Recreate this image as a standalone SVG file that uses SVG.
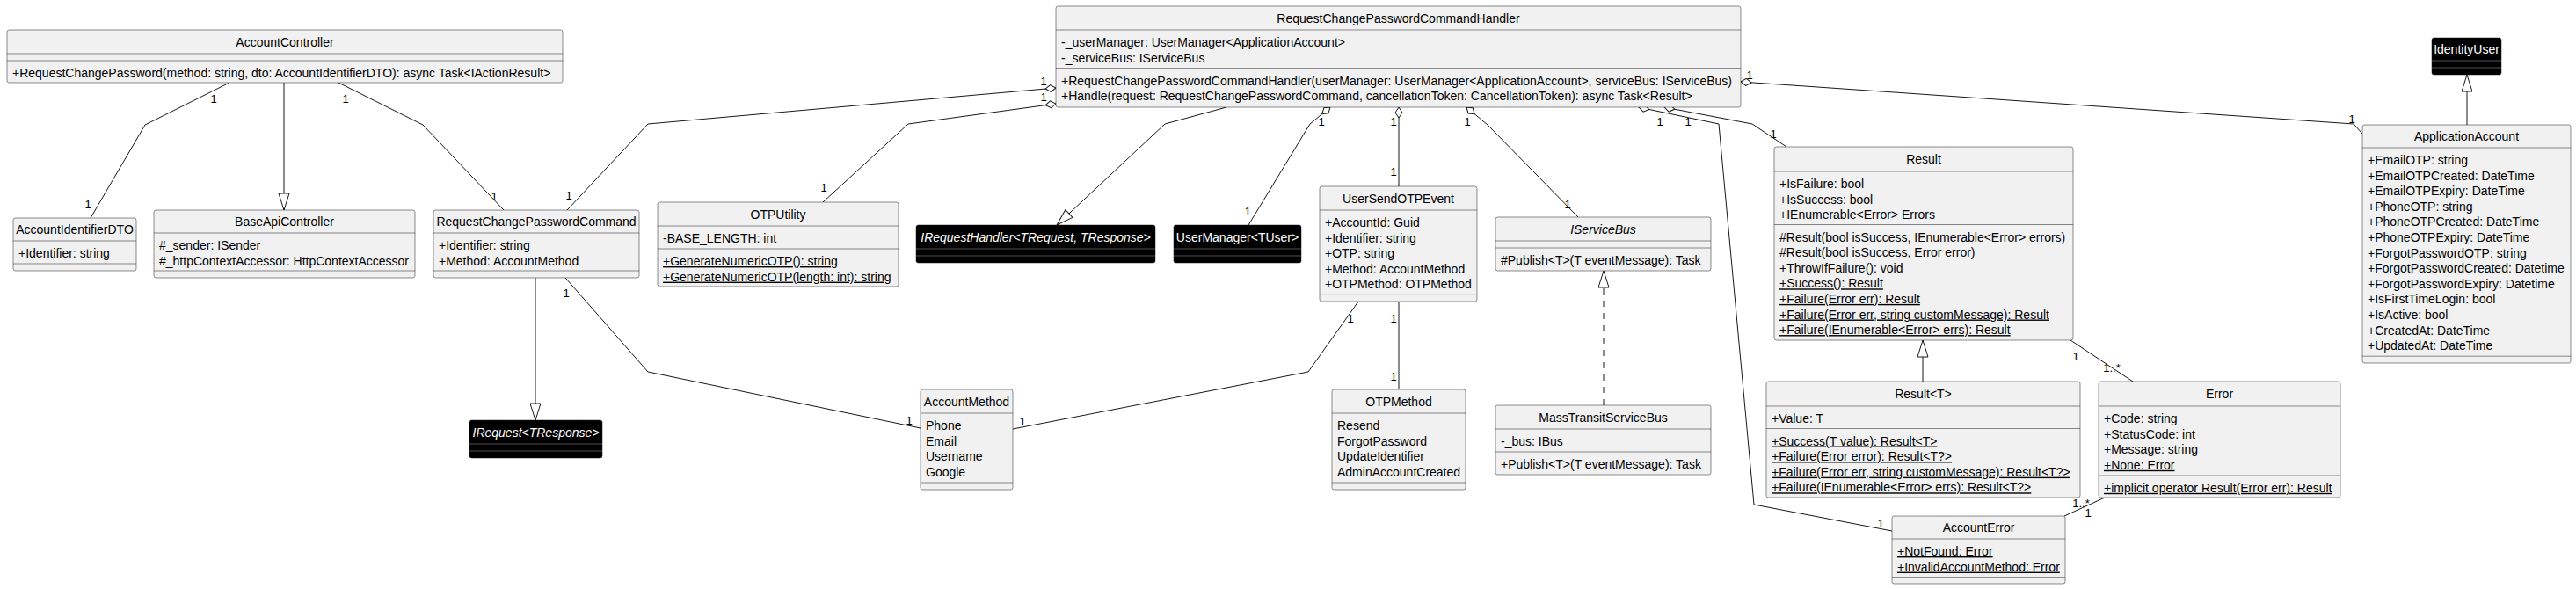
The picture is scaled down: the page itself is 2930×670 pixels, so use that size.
<svg xmlns="http://www.w3.org/2000/svg" width="2930" height="670" viewBox="0 0 2930 670">
<style>
.box{fill:#F1F1F1;stroke:#181818;stroke-width:0.5}
.dark{fill:#000000;stroke:#181818;stroke-width:0.5}
.sep{stroke:#181818;stroke-width:0.5}
.sepd{stroke:#A0A0A0;stroke-width:0.5}
text{font-family:"Liberation Sans",Arial,sans-serif;font-size:14px;fill:#000000}
.t{text-anchor:middle}
.w{fill:#FFFFFF}
.i{font-style:italic}
.u{text-decoration:underline}
.edge{fill:none;stroke:#181818;stroke-width:1}
.dash{stroke-dasharray:7,7}
.lbl{font-size:13px;text-anchor:middle}
</style>
<defs>
<marker id="dia" viewBox="-1 -1 14 10" refX="0" refY="4" markerWidth="14" markerHeight="10" markerUnits="userSpaceOnUse" orient="auto">
<path d="M0,4 L6,0 L12,4 L6,8 Z" fill="#FFFFFF" stroke="#181818" stroke-width="1"/>
</marker>
<marker id="tri" viewBox="-1 -1 22 14" refX="19" refY="6" markerWidth="22" markerHeight="14" markerUnits="userSpaceOnUse" orient="auto">
<path d="M0,0 L19,6 L0,12 Z" fill="#FFFFFF" stroke="#181818" stroke-width="1" stroke-dasharray="none"/>
</marker>
</defs>
<rect width="2930" height="670" fill="#FFFFFF"/>

<g id="connectors">
<path class="edge" d="M261,94 L165,142 L103,248"/>
<path class="edge" d="M323,94 L323,239" marker-end="url(#tri)"/>
<path class="edge" d="M385,94 L481,142 L573,239"/>
<path class="edge" d="M1201,100 L737,141 L645,239" marker-start="url(#dia)"/>
<path class="edge" d="M1201,118 L1033,141 L936,230" marker-start="url(#dia)"/>
<path class="edge" d="M1395,122 L1325,141 L1202,256" marker-end="url(#tri)"/>
<path class="edge" d="M1513,122 L1490,141 L1420,256" marker-start="url(#dia)"/>
<path class="edge" d="M1591,122 L1591,212" marker-start="url(#dia)"/>
<path class="edge" d="M1668,122 L1692,142 L1795,247" marker-start="url(#dia)"/>
<path class="edge" d="M1864,122 L1955,141 L1995,574 L2152,604" marker-start="url(#dia)"/>
<path class="edge" d="M1893,122 L1993,141 L2032,167" marker-start="url(#dia)"/>
<path class="edge" d="M1980,93 L2677,141 L2687,152" marker-start="url(#dia)"/>
<path class="edge" d="M609,316 L609,478" marker-end="url(#tri)"/>
<path class="edge" d="M643,316 L737,423 L1047,487"/>
<path class="edge" d="M1545,343 L1488,423 L1152,488"/>
<path class="edge" d="M1591,343 L1591,443"/>
<path class="edge dash" d="M1824,461 L1824,308" marker-end="url(#tri)"/>
<path class="edge" d="M2187,434 L2187,387" marker-end="url(#tri)"/>
<path class="edge" d="M2355,387 L2426,434"/>
<path class="edge" d="M2348,587 L2394,566"/>
<path class="edge" d="M2806,142 L2806,85" marker-end="url(#tri)"/>
<text class="lbl" x="243" y="117">1</text>
<text class="lbl" x="100" y="237">1</text>
<text class="lbl" x="393" y="117">1</text>
<text class="lbl" x="562" y="228">1</text>
<text class="lbl" x="1187" y="97">1</text>
<text class="lbl" x="647" y="227">1</text>
<text class="lbl" x="1187" y="115">1</text>
<text class="lbl" x="937" y="218">1</text>
<text class="lbl" x="644" y="338">1</text>
<text class="lbl" x="1034" y="483">1</text>
<text class="lbl" x="1536" y="367">1</text>
<text class="lbl" x="1163" y="484">1</text>
<text class="lbl" x="1503" y="143">1</text>
<text class="lbl" x="1419" y="245">1</text>
<text class="lbl" x="1585" y="143">1</text>
<text class="lbl" x="1585" y="200">1</text>
<text class="lbl" x="1585" y="367">1</text>
<text class="lbl" x="1585" y="433">1</text>
<text class="lbl" x="1669" y="143">1</text>
<text class="lbl" x="1783" y="237">1</text>
<text class="lbl" x="1888" y="143">1</text>
<text class="lbl" x="2139" y="600">1</text>
<text class="lbl" x="1920" y="143">1</text>
<text class="lbl" x="2017" y="157">1</text>
<text class="lbl" x="1990" y="90">1</text>
<text class="lbl" x="2675" y="140">1</text>
<text class="lbl" x="2361" y="410">1</text>
<text class="lbl" x="2402" y="423">1..*</text>
<text class="lbl" x="2367" y="577">1..*</text>
<text class="lbl" x="2375" y="588">1</text>
</g>

<g id="AccountController">
<rect class="box" x="8" y="34" width="632" height="60" rx="2.5"/>
<text class="t" x="324" y="52.5">AccountController</text>
<line class="sep" x1="8" y1="61" x2="640" y2="61"/>
<line class="sep" x1="8" y1="69" x2="640" y2="69"/>
<text x="14" y="88">+RequestChangePassword(method: string, dto: AccountIdentifierDTO): async Task&lt;IActionResult&gt;</text>
</g>

<g id="AccountIdentifierDTO">
<rect class="box" x="15" y="248" width="140" height="60" rx="2.5"/>
<text class="t" x="85" y="266">AccountIdentifierDTO</text>
<line class="sep" x1="15" y1="274" x2="155" y2="274"/>
<text x="21" y="293">+Identifier: string</text>
<line class="sep" x1="15" y1="300" x2="155" y2="300"/>
</g>

<g id="BaseApiController">
<rect class="box" x="175" y="239" width="297" height="77" rx="2.5"/>
<text class="t" x="323.5" y="257">BaseApiController</text>
<line class="sep" x1="175" y1="265" x2="472" y2="265"/>
<text x="181" y="284">#_sender: ISender</text>
<text x="181" y="302">#_httpContextAccessor: HttpContextAccessor</text>
<line class="sep" x1="175" y1="308" x2="472" y2="308"/>
</g>

<g id="RequestChangePasswordCommand">
<rect class="box" x="493" y="239" width="234" height="77" rx="2.5"/>
<text class="t" x="610" y="257">RequestChangePasswordCommand</text>
<line class="sep" x1="493" y1="265" x2="727" y2="265"/>
<text x="499" y="284">+Identifier: string</text>
<text x="499" y="302">+Method: AccountMethod</text>
<line class="sep" x1="493" y1="308" x2="727" y2="308"/>
</g>

<g id="IRequest">
<rect class="dark" x="534" y="478" width="151" height="43" rx="2.5"/>
<text class="t w i" x="609.5" y="496.5">IRequest&lt;TResponse&gt;</text>
<line class="sepd" x1="534" y1="505" x2="685" y2="505"/>
<line class="sepd" x1="534" y1="513" x2="685" y2="513"/>
</g>

<g id="RequestChangePasswordCommandHandler">
<rect class="box" x="1201" y="7" width="779" height="115" rx="2.5"/>
<text class="t" x="1590.5" y="25.5">RequestChangePasswordCommandHandler</text>
<line class="sep" x1="1201" y1="34" x2="1980" y2="34"/>
<text x="1207" y="53">-_userManager: UserManager&lt;ApplicationAccount&gt;</text>
<text x="1207" y="70.6">-_serviceBus: IServiceBus</text>
<line class="sep" x1="1201" y1="77.6" x2="1980" y2="77.6"/>
<text x="1207" y="96.6">+RequestChangePasswordCommandHandler(userManager: UserManager&lt;ApplicationAccount&gt;, serviceBus: IServiceBus)</text>
<text x="1207" y="114.2">+Handle(request: RequestChangePasswordCommand, cancellationToken: CancellationToken): async Task&lt;Result&gt;</text>
</g>

<g id="OTPUtility">
<rect class="box" x="748" y="230" width="274" height="96" rx="2.5"/>
<text class="t" x="885" y="248.5">OTPUtility</text>
<line class="sep" x1="748" y1="257" x2="1022" y2="257"/>
<text x="754" y="276">-BASE_LENGTH: int</text>
<line class="sep" x1="748" y1="283" x2="1022" y2="283"/>
<text class="u" x="754" y="302">+GenerateNumericOTP(): string</text>
<text class="u" x="754" y="319.6">+GenerateNumericOTP(length: int): string</text>
</g>

<g id="IRequestHandler">
<rect class="dark" x="1042" y="256" width="272" height="43" rx="2.5"/>
<text class="t w i" x="1178" y="274.5">IRequestHandler&lt;TRequest, TResponse&gt;</text>
<line class="sepd" x1="1042" y1="283" x2="1314" y2="283"/>
<line class="sepd" x1="1042" y1="291" x2="1314" y2="291"/>
</g>

<g id="UserManager">
<rect class="dark" x="1335" y="256" width="145" height="43" rx="2.5"/>
<text class="t w" x="1407.5" y="274.5">UserManager&lt;TUser&gt;</text>
<line class="sepd" x1="1335" y1="283" x2="1480" y2="283"/>
<line class="sepd" x1="1335" y1="291" x2="1480" y2="291"/>
</g>

<g id="UserSendOTPEvent">
<rect class="box" x="1501" y="212" width="179" height="131" rx="2.5"/>
<text class="t" x="1590.5" y="230.5">UserSendOTPEvent</text>
<line class="sep" x1="1501" y1="239" x2="1680" y2="239"/>
<text x="1507" y="258">+AccountId: Guid</text>
<text x="1507" y="275.6">+Identifier: string</text>
<text x="1507" y="293.2">+OTP: string</text>
<text x="1507" y="310.8">+Method: AccountMethod</text>
<text x="1507" y="328.4">+OTPMethod: OTPMethod</text>
<line class="sep" x1="1501" y1="335.4" x2="1680" y2="335.4"/>
</g>

<g id="IServiceBus">
<rect class="box" x="1701" y="247" width="245" height="61" rx="2.5"/>
<text class="t i" x="1823.5" y="265.5">IServiceBus</text>
<line class="sep" x1="1701" y1="274" x2="1946" y2="274"/>
<line class="sep" x1="1701" y1="282" x2="1946" y2="282"/>
<text x="1707" y="301">#Publish&lt;T&gt;(T eventMessage): Task</text>
</g>

<g id="MassTransitServiceBus">
<rect class="box" x="1701" y="461" width="245" height="79" rx="2.5"/>
<text class="t" x="1823.5" y="479.5">MassTransitServiceBus</text>
<line class="sep" x1="1701" y1="488" x2="1946" y2="488"/>
<text x="1707" y="507">-_bus: IBus</text>
<line class="sep" x1="1701" y1="514" x2="1946" y2="514"/>
<text x="1707" y="533">+Publish&lt;T&gt;(T eventMessage): Task</text>
</g>

<g id="AccountMethod">
<rect class="box" x="1047" y="443" width="105" height="114" rx="2.5"/>
<text class="t" x="1099.5" y="461.5">AccountMethod</text>
<line class="sep" x1="1047" y1="470" x2="1152" y2="470"/>
<text x="1053" y="489">Phone</text>
<text x="1053" y="506.6">Email</text>
<text x="1053" y="524.2">Username</text>
<text x="1053" y="541.8">Google</text>
<line class="sep" x1="1047" y1="549" x2="1152" y2="549"/>
</g>

<g id="OTPMethod">
<rect class="box" x="1515" y="443" width="152" height="114" rx="2.5"/>
<text class="t" x="1591" y="461.5">OTPMethod</text>
<line class="sep" x1="1515" y1="470" x2="1667" y2="470"/>
<text x="1521" y="489">Resend</text>
<text x="1521" y="506.6">ForgotPassword</text>
<text x="1521" y="524.2">UpdateIdentifier</text>
<text x="1521" y="541.8">AdminAccountCreated</text>
<line class="sep" x1="1515" y1="549" x2="1667" y2="549"/>
</g>

<g id="Result">
<rect class="box" x="2018" y="167" width="340" height="220" rx="2.5"/>
<text class="t" x="2188" y="186">Result</text>
<line class="sep" x1="2018" y1="195" x2="2358" y2="195"/>
<text x="2024" y="214">+IsFailure: bool</text>
<text x="2024" y="231.6">+IsSuccess: bool</text>
<text x="2024" y="249.2">+IEnumerable&lt;Error&gt; Errors</text>
<line class="sep" x1="2018" y1="255.5" x2="2358" y2="255.5"/>
<text x="2024" y="274.5">#Result(bool isSuccess, IEnumerable&lt;Error&gt; errors)</text>
<text x="2024" y="292.1">#Result(bool isSuccess, Error error)</text>
<text x="2024" y="309.7">+ThrowIfFailure(): void</text>
<text class="u" x="2024" y="327.3">+Success(): Result</text>
<text class="u" x="2024" y="344.9">+Failure(Error err): Result</text>
<text class="u" x="2024" y="362.5">+Failure(Error err, string customMessage): Result</text>
<text class="u" x="2024" y="380.1">+Failure(IEnumerable&lt;Error&gt; errs): Result</text>
</g>

<g id="ResultT">
<rect class="box" x="2009" y="434" width="357" height="132" rx="2.5"/>
<text class="t" x="2187.5" y="453">Result&lt;T&gt;</text>
<line class="sep" x1="2009" y1="462" x2="2366" y2="462"/>
<text x="2015" y="481">+Value: T</text>
<line class="sep" x1="2009" y1="487.5" x2="2366" y2="487.5"/>
<text class="u" x="2015" y="506.5">+Success(T value): Result&lt;T&gt;</text>
<text class="u" x="2015" y="524.1">+Failure(Error error): Result&lt;T?&gt;</text>
<text class="u" x="2015" y="541.7">+Failure(Error err, string customMessage): Result&lt;T?&gt;</text>
<text class="u" x="2015" y="559.3">+Failure(IEnumerable&lt;Error&gt; errs): Result&lt;T?&gt;</text>
</g>

<g id="Error">
<rect class="box" x="2387" y="434" width="275" height="132" rx="2.5"/>
<text class="t" x="2524.5" y="453">Error</text>
<line class="sep" x1="2387" y1="462" x2="2662" y2="462"/>
<text x="2393" y="481">+Code: string</text>
<text x="2393" y="498.6">+StatusCode: int</text>
<text x="2393" y="516.2">+Message: string</text>
<text class="u" x="2393" y="533.8">+None: Error</text>
<line class="sep" x1="2387" y1="541" x2="2662" y2="541"/>
<text class="u" x="2393" y="559.8">+implicit operator Result(Error err): Result</text>
</g>

<g id="AccountError">
<rect class="box" x="2152" y="587" width="197" height="77" rx="2.5"/>
<text class="t" x="2250.5" y="605">AccountError</text>
<line class="sep" x1="2152" y1="613" x2="2349" y2="613"/>
<text class="u" x="2158" y="632">+NotFound: Error</text>
<text class="u" x="2158" y="649.6">+InvalidAccountMethod: Error</text>
<line class="sep" x1="2152" y1="656.6" x2="2349" y2="656.6"/>
</g>

<g id="ApplicationAccount">
<rect class="box" x="2687" y="142" width="237" height="271" rx="2.5"/>
<text class="t" x="2805.5" y="160">ApplicationAccount</text>
<line class="sep" x1="2687" y1="168" x2="2924" y2="168"/>
<text x="2693" y="187">+EmailOTP: string</text>
<text x="2693" y="204.6">+EmailOTPCreated: DateTime</text>
<text x="2693" y="222.2">+EmailOTPExpiry: DateTime</text>
<text x="2693" y="239.8">+PhoneOTP: string</text>
<text x="2693" y="257.4">+PhoneOTPCreated: DateTime</text>
<text x="2693" y="275">+PhoneOTPExpiry: DateTime</text>
<text x="2693" y="292.6">+ForgotPasswordOTP: string</text>
<text x="2693" y="310.2">+ForgotPasswordCreated: Datetime</text>
<text x="2693" y="327.8">+ForgotPasswordExpiry: Datetime</text>
<text x="2693" y="345.4">+IsFirstTimeLogin: bool</text>
<text x="2693" y="363">+IsActive: bool</text>
<text x="2693" y="380.6">+CreatedAt: DateTime</text>
<text x="2693" y="398.2">+UpdatedAt: DateTime</text>
<line class="sep" x1="2687" y1="405.2" x2="2924" y2="405.2"/>
</g>

<g id="IdentityUser">
<rect class="dark" x="2766" y="43" width="79" height="42" rx="2.5"/>
<text class="t w" x="2805.5" y="61">IdentityUser</text>
<line class="sepd" x1="2766" y1="69" x2="2845" y2="69"/>
<line class="sepd" x1="2766" y1="77" x2="2845" y2="77"/>
</g>
</svg>
